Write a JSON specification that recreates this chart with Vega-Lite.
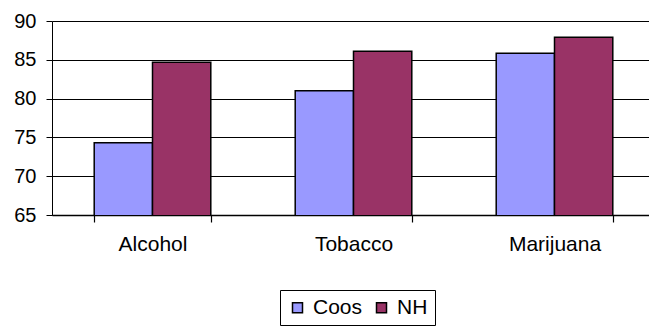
{
  "$schema": "https://vega.github.io/schema/vega-lite/v6.json",
  "autosize": "none",
  "padding": {"left": 52, "top": 21, "right": 0, "bottom": 113},
  "width": 603,
  "height": 194,
  "background": "white",
  "data": {
    "values": [
      {"category": "Alcohol", "series": "Coos", "value": 74.3},
      {"category": "Alcohol", "series": "NH", "value": 84.7},
      {"category": "Tobacco", "series": "Coos", "value": 81.0},
      {"category": "Tobacco", "series": "NH", "value": 86.1},
      {"category": "Marijuana", "series": "Coos", "value": 85.85},
      {"category": "Marijuana", "series": "NH", "value": 87.9}
    ]
  },
  "mark": {"type": "bar", "stroke": "black", "strokeWidth": 1.5, "clip": true},
  "encoding": {
    "x": {
      "field": "category",
      "type": "nominal",
      "sort": ["Alcohol", "Tobacco", "Marijuana"],
      "scale": {"paddingInner": 0.42, "paddingOuter": 0.21},
      "axis": {
        "title": null,
        "labelAngle": 0,
        "labelFont": "Liberation Sans",
        "labelFontSize": 21,
        "labelColor": "black",
        "labelPadding": 11,
        "ticks": true,
        "tickBand": "extent",
        "tickSize": 7,
        "tickWidth": 1.2,
        "tickColor": "black",
        "domainColor": "black",
        "domainWidth": 1.5
      }
    },
    "xOffset": {
      "field": "series",
      "type": "nominal",
      "sort": ["Coos", "NH"],
      "scale": {"paddingInner": 0, "paddingOuter": 0}
    },
    "y": {
      "field": "value",
      "type": "quantitative",
      "scale": {"domain": [65, 90], "zero": false, "nice": false},
      "axis": {
        "title": null,
        "values": [65, 70, 75, 80, 85, 90],
        "labelFont": "Liberation Sans",
        "labelFontSize": 20,
        "labelColor": "black",
        "labelPadding": 10,
        "tickSize": 6,
        "tickColor": "black",
        "domainColor": "black",
        "grid": true,
        "gridColor": "black",
        "gridWidth": 1.2
      }
    },
    "fill": {
      "field": "series",
      "type": "nominal",
      "scale": {"domain": ["Coos", "NH"], "range": ["#9999FF", "#993366"]},
      "legend": {
        "title": null,
        "orient": "none",
        "legendX": 228,
        "legendY": 269,
        "direction": "horizontal",
        "symbolType": "square",
        "symbolSize": 100,
        "symbolStrokeColor": "black",
        "symbolStrokeWidth": 1.5,
        "labelFont": "Liberation Sans",
        "labelFontSize": 21,
        "labelColor": "black",
        "labelOffset": 5,
        "columnPadding": 8,
        "padding": 7,
        "strokeColor": "black"
      }
    }
  },
  "config": {"view": {"stroke": null}}
}
